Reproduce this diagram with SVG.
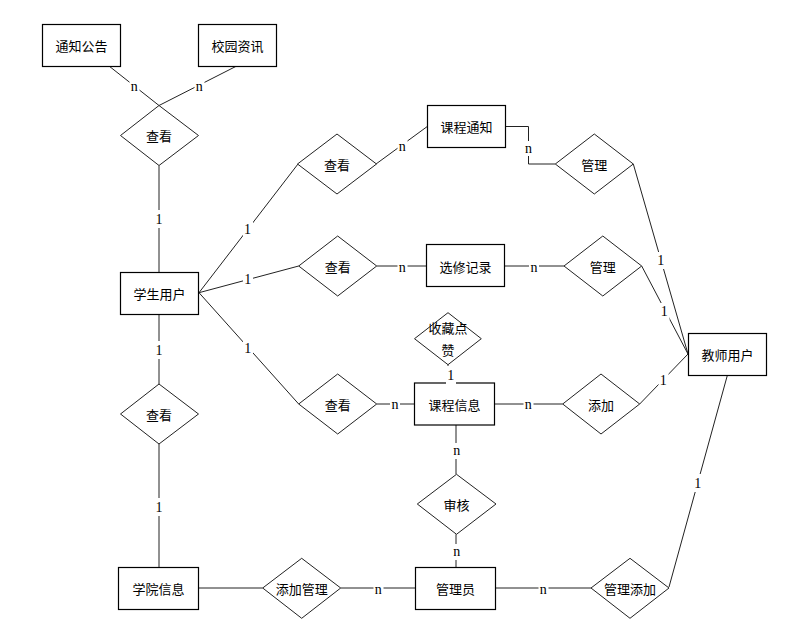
<svg xmlns="http://www.w3.org/2000/svg" width="789" height="643" viewBox="0 0 789 643">
<style>
.ent rect{fill:#fff;stroke:#000;stroke-width:1.2}
.rel polygon{fill:#fff;stroke:#222;stroke-width:1}
.t{font-family:"Noto Sans CJK SC","Noto Sans",sans-serif;font-size:13px;fill:#000;text-anchor:middle;dominant-baseline:central}
#connectors line,#connectors polyline{stroke:#222;stroke-width:1;fill:none}
.bg{fill:#fff}
.c{font-family:"Liberation Serif","Times New Roman",serif;font-size:14px;fill:#000;text-anchor:middle}
</style>
<rect width="789" height="643" fill="#fff"/>
<g id="connectors">
<line x1="109" y1="66" x2="159" y2="105.5"/>
<line x1="236.7" y1="66" x2="159" y2="105.5"/>
<line x1="159" y1="165.5" x2="159" y2="272"/>
<line x1="199" y1="292.7" x2="298" y2="164"/>
<line x1="199" y1="292.7" x2="298.7" y2="266"/>
<line x1="199" y1="292.7" x2="298.7" y2="404"/>
<line x1="159" y1="314" x2="159" y2="384"/>
<line x1="159" y1="444" x2="159" y2="567"/>
<line x1="376" y1="164" x2="427" y2="126.7"/>
<polyline points="505,126.5 528.5,126.5 528.5,164 555.3,164"/>
<line x1="633.3" y1="164" x2="688" y2="354"/>
<line x1="376.7" y1="266" x2="426" y2="266"/>
<line x1="505" y1="266" x2="564" y2="266"/>
<line x1="641.7" y1="266" x2="688" y2="354"/>
<line x1="448" y1="364.7" x2="448" y2="383"/>
<line x1="376.7" y1="404" x2="414" y2="404"/>
<line x1="495" y1="404" x2="562.7" y2="404"/>
<line x1="639.7" y1="404" x2="688" y2="354"/>
<line x1="456" y1="425" x2="456" y2="474.3"/>
<line x1="456" y1="534.3" x2="456" y2="567"/>
<line x1="199" y1="588" x2="262.7" y2="588"/>
<line x1="340.7" y1="588" x2="415" y2="588"/>
<line x1="496" y1="588" x2="591" y2="588"/>
<line x1="727.3" y1="375.5" x2="669" y2="587"/>
</g>
<g id="nodes">
<g id="e_tzgg" class="ent"><rect x="42.5" y="24.5" width="78" height="42"/><text class="t" x="81.5" y="45.5">通知公告</text></g>
<g id="e_xyzx" class="ent"><rect x="198.5" y="24.5" width="78" height="42"/><text class="t" x="237.5" y="45.5">校园资讯</text></g>
<g id="e_kctz" class="ent"><rect x="427.5" y="105.5" width="78" height="42"/><text class="t" x="466.5" y="126.5">课程通知</text></g>
<g id="e_xsyh" class="ent"><rect x="120.5" y="272.5" width="78" height="42"/><text class="t" x="159.5" y="293.5">学生用户</text></g>
<g id="e_xxjl" class="ent"><rect x="426.5" y="244.5" width="78" height="42"/><text class="t" x="465.5" y="266">选修记录</text></g>
<g id="e_kcxx" class="ent"><rect x="414.5" y="383" width="80" height="42"/><text class="t" x="454.5" y="404">课程信息</text></g>
<g id="e_jsyh" class="ent"><rect x="688.5" y="333.5" width="78" height="42"/><text class="t" x="727.5" y="354.5">教师用户</text></g>
<g id="e_xyxx" class="ent"><rect x="118.5" y="567.5" width="80" height="42"/><text class="t" x="158.5" y="588.5">学院信息</text></g>
<g id="e_gly" class="ent"><rect x="415.5" y="567.5" width="80" height="42"/><text class="t" x="455.5" y="588.5">管理员</text></g>

<g id="r_ck1" class="rel"><polygon points="159,105.5 198.5,135.5 159,165.5 120.5,135.5"/><text class="t" x="159" y="135.5">查看</text></g>
<g id="r_ck2" class="rel"><polygon points="337,134 376.5,164 337,194 297.5,164"/><text class="t" x="337" y="164">查看</text></g>
<g id="r_gl1" class="rel"><polygon points="594.3,134 633.3,164 594.3,194 555.3,164"/><text class="t" x="594.3" y="164">管理</text></g>
<g id="r_ck3" class="rel"><polygon points="337.7,236 376.7,266 337.7,296 298.7,266"/><text class="t" x="337.7" y="266">查看</text></g>
<g id="r_gl2" class="rel"><polygon points="602.8,236 641.7,266 602.8,296 564,266"/><text class="t" x="602.8" y="266">管理</text></g>
<g id="r_sc" class="rel"><polygon points="448,312.7 481.3,338.7 448,364.7 414.5,338.7"/><text class="t" x="448" y="327.5">收藏点</text><text class="t" x="448" y="349.5">赞</text></g>
<g id="r_ck4" class="rel"><polygon points="337.7,374 376.7,404 337.7,434 298.7,404"/><text class="t" x="337.7" y="404">查看</text></g>
<g id="r_tj" class="rel"><polygon points="601,374 639.7,404 601,434 562.7,404"/><text class="t" x="601" y="404">添加</text></g>
<g id="r_ck5" class="rel"><polygon points="159,384 198.5,414 159,444 120.5,414"/><text class="t" x="159" y="414">查看</text></g>
<g id="r_sh" class="rel"><polygon points="456.5,474.3 496,504 456.5,534.3 417.3,504"/><text class="t" x="456.5" y="504">审核</text></g>
<g id="r_tjgl" class="rel"><polygon points="301.7,558.3 340.7,588 301.7,618.3 262.7,588"/><text class="t" x="301.7" y="588">添加管理</text></g>
<g id="r_gltj" class="rel"><polygon points="630,558.3 669,588 630,618.3 591,588"/><text class="t" x="630" y="588">管理添加</text></g>
</g>
<g id="labels">
<rect class="bg" x="129.5" y="80" width="10" height="14"/><text class="c" x="134.3" y="91">n</text>
<rect class="bg" x="194.5" y="80" width="10" height="14"/><text class="c" x="199.3" y="91">n</text>
<rect class="bg" x="154" y="210" width="10" height="18"/><text class="c" x="159" y="224">1</text>
<rect class="bg" x="243" y="221" width="10" height="17"/><text class="c" x="247.5" y="234">1</text>
<rect class="bg" x="243" y="271" width="10" height="17"/><text class="c" x="247.7" y="284">1</text>
<rect class="bg" x="243" y="340" width="10" height="17"/><text class="c" x="247.7" y="353">1</text>
<rect class="bg" x="154" y="341" width="10" height="18"/><text class="c" x="159" y="355">1</text>
<rect class="bg" x="154" y="498" width="10" height="18"/><text class="c" x="159" y="512">1</text>
<rect class="bg" x="397.5" y="140" width="10" height="14"/><text class="c" x="402.3" y="150.5">n</text>
<rect class="bg" x="523.5" y="141" width="10" height="15"/><text class="c" x="528.5" y="152.5">n</text>
<rect class="bg" x="656" y="252" width="10" height="17"/><text class="c" x="660.7" y="265">1</text>
<rect class="bg" x="397.5" y="261" width="10" height="14"/><text class="c" x="402.3" y="271.5">n</text>
<rect class="bg" x="529" y="261" width="10" height="14"/><text class="c" x="534" y="271.5">n</text>
<rect class="bg" x="659.5" y="303" width="10" height="17"/><text class="c" x="664.3" y="316">1</text>
<rect class="bg" x="446" y="366" width="10" height="18"/><text class="c" x="450.7" y="379.5">1</text>
<rect class="bg" x="390" y="399" width="10" height="14"/><text class="c" x="395" y="409">n</text>
<rect class="bg" x="523.5" y="399" width="10" height="14"/><text class="c" x="528.3" y="409">n</text>
<rect class="bg" x="658.5" y="371" width="10" height="17"/><text class="c" x="663.3" y="384.5">1</text>
<rect class="bg" x="451.5" y="443" width="10" height="16"/><text class="c" x="456.7" y="454.5">n</text>
<rect class="bg" x="451.5" y="544" width="10" height="16"/><text class="c" x="456.7" y="555.5">n</text>
<rect class="bg" x="373.5" y="583" width="10" height="14"/><text class="c" x="378.3" y="593.5">n</text>
<rect class="bg" x="538.5" y="583" width="10" height="14"/><text class="c" x="543.3" y="593.5">n</text>
<rect class="bg" x="693" y="474" width="10" height="18"/><text class="c" x="697.7" y="488">1</text>
</g>
</svg>
